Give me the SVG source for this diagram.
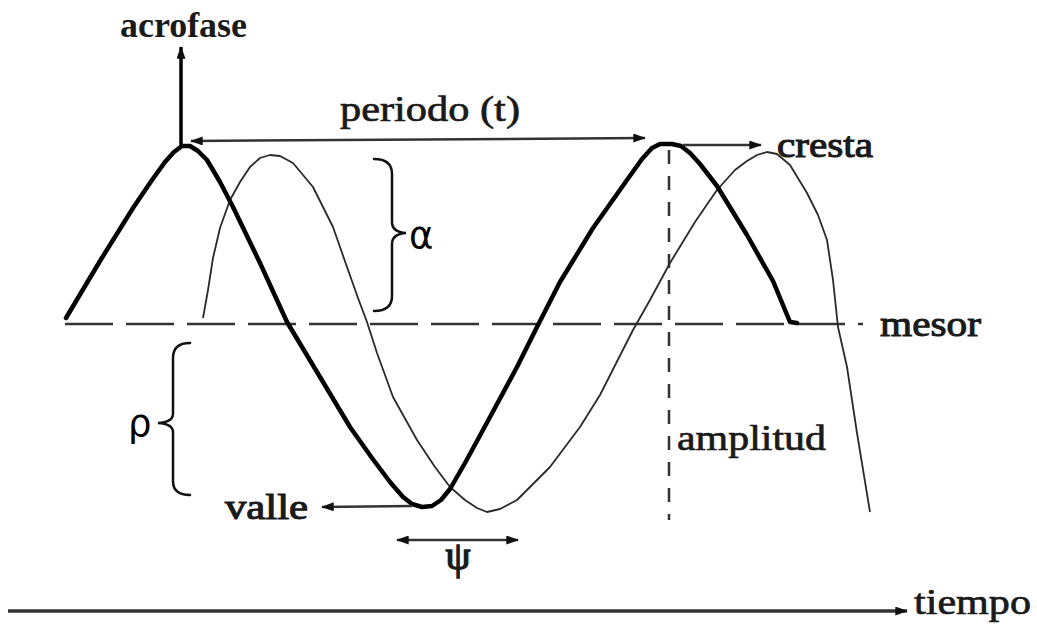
<svg xmlns="http://www.w3.org/2000/svg" width="1037" height="626" viewBox="0 0 1037 626">
<style>
.lbl{font-family:"Liberation Serif","Times New Roman",serif;font-size:36px;fill:#1a1a1a;stroke:#1a1a1a;stroke-width:0.7}
.b{font-weight:bold;stroke-width:0}
.greek{font-family:"DejaVu Sans","Liberation Sans",sans-serif;font-size:37px;fill:#000}
.thick{fill:none;stroke:#000;stroke-width:4.5;stroke-linejoin:round;stroke-linecap:round}
.thin{fill:none;stroke:#2a2a2a;stroke-width:1.8;stroke-linejoin:round}
.dash{fill:none;stroke:#333;stroke-width:2.5;stroke-dasharray:48 13}
.vdash{fill:none;stroke:#333;stroke-width:2.5;stroke-dasharray:14 12}
.arr{fill:none;stroke:#333;stroke-width:2.5}
.brace{fill:none;stroke:#111;stroke-width:2.5;stroke-linecap:round}
</style>
<defs>
<marker id="ah" viewBox="0 0 14 10" refX="13" refY="5" markerWidth="14" markerHeight="9" markerUnits="userSpaceOnUse" orient="auto-start-reverse">
<path d="M0,0 L14,5 L0,10 Z" fill="#111"/>
</marker>
</defs>

<g id="mesor-line">
<path class="dash" d="M65,324 L863,324"/>
</g>
<g id="amplitud-line">
<path class="vdash" d="M669,150 L669,520"/>
</g>

<g id="thin-curve">
<polyline class="thin" points="203,318 208,290 213,258 220,228 230,200 240,182 250,167 260,158 270,155 280,156 293,163 313,187 333,227 347,267 358,298 367,322 377,353 393,397 417,440 435,467 450,487 465,500 477,508 487,512 500,509 517,500 550,467 580,427 600,395 633,330 650,300 670,263 695,222 717,190 735,170 747,161 757,155 767,152 777,154 790,165 807,193 818,215 827,240 833,280 838,327 847,367 857,433 870,512"/>
</g>

<g id="thick-curve">
<polyline class="thick" points="66,318 100,261 133,208 152,180 165,162 174,152 182,146 190,146 198,151 207,160 220,182 233,207 260,263 287,322 317,372 350,427 372,458 390,482 403,497 412,504 422,507 432,506 441,500 450,489 465,463 483,430 517,367 537,327 560,282 593,228 627,180 642,159 652,148 660,144 672,144 681,146 690,153 700,164 717,186 747,235 773,281 790,322 797,323"/>
</g>

<g id="connectors">
<path d="M181,145 L181,47" fill="none" stroke="#000" stroke-width="3.5" marker-end="url(#ah)"/>
<path class="arr" d="M191,141 L645,138" marker-start="url(#ah)" marker-end="url(#ah)"/>
<path class="arr" d="M683,145 L761,145" marker-end="url(#ah)"/>
<path class="arr" d="M412,506 L322,507" marker-end="url(#ah)"/>
<path class="arr" d="M397,540 L518,540" marker-start="url(#ah)" marker-end="url(#ah)"/>
<path d="M8,611 L907,611" fill="none" stroke="#333" stroke-width="3.5" marker-end="url(#ah)"/>
</g>

<g id="alpha-brace">
<path class="brace" d="M374,159 Q392,159 392,174 L392,222 Q392,232 406,233 Q392,234 392,244 L392,296 Q392,311 374,311"/>
<text class="greek" x="409" y="248">α</text>
</g>
<g id="rho-brace">
<path class="brace" d="M190,343 Q173,343 173,358 L173,414 Q173,422 158,423 Q173,424 173,432 L173,481 Q173,495 190,495"/>
<text class="greek" x="128" y="436">ρ</text>
</g>

<g id="labels">
<text class="lbl b" x="120" y="37" textLength="127" lengthAdjust="spacingAndGlyphs">acrofase</text>
<text class="lbl" x="340" y="121" textLength="180" lengthAdjust="spacingAndGlyphs">periodo (t)</text>
<text class="lbl" x="777" y="157" textLength="96" lengthAdjust="spacingAndGlyphs" style="stroke-width:1.1">cresta</text>
<text class="lbl" x="880" y="336" textLength="101" lengthAdjust="spacingAndGlyphs" style="stroke-width:1">mesor</text>
<text class="lbl" x="677" y="450" textLength="149" lengthAdjust="spacingAndGlyphs">amplitud</text>
<text class="lbl" x="225" y="519" textLength="83" lengthAdjust="spacingAndGlyphs" style="stroke-width:1.1">valle</text>
<text class="lbl" x="914" y="614" textLength="117" lengthAdjust="spacingAndGlyphs">tiempo</text>
<text class="lbl" x="458" y="569" text-anchor="middle" style="font-size:40px;stroke-width:1.4">ψ</text>
</g>
</svg>
